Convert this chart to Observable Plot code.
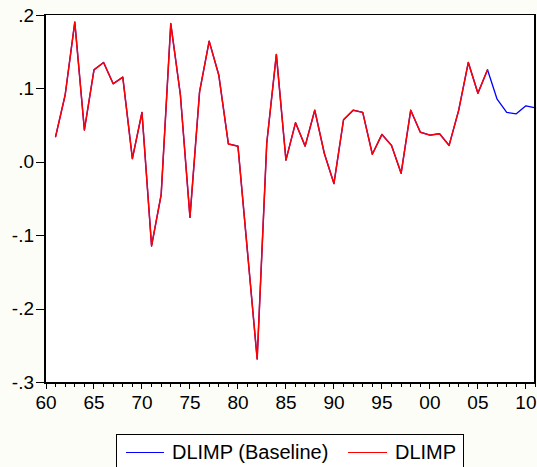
<!DOCTYPE html>
<html>
<head>
<meta charset="utf-8">
<script src="https://cdn.jsdelivr.net/npm/d3@7"></script>
<script src="https://cdn.jsdelivr.net/npm/@observablehq/plot@0.6"></script>
<style>
  html, body { margin: 0; padding: 0; background: #fdfdf7; }
  body { width: 537px; height: 467px; overflow: hidden; position: relative; font-family: "Liberation Sans", Arial, sans-serif; color: #000; }
  #chart { position: absolute; left: 0; top: 0; width: 537px; height: 420px; }
  #chart svg { background: transparent; font-family: "Liberation Sans", Arial, sans-serif; font-size: 19px; color: #000; }
  #box { position: absolute; left: 44px; top: 14px; width: 492px; height: 370px; box-sizing: border-box; border-style: solid; border-color: #000; border-width: 1.5px 2px 2px 2px; pointer-events: none; z-index: 5; }
  .ov { position: absolute; background: #000; pointer-events: none; z-index: 5; }
  #legend { position: absolute; left: 116px; top: 434px; width: 348px; height: 40px; border: 1px solid #000; background: #fff; box-sizing: border-box; }
  .sw { position: absolute; top: 17px; height: 0; border-top: 1px solid; }
  .lt { position: absolute; top: 6px; font-size: 20px; line-height: 22px; white-space: nowrap; }
</style>
</head>
<body>
<div id="chart"></div>
<div id="box"></div>
<div id="legend">
  <div class="sw" style="left:9px;width:38px;border-color:#0000ff"></div>
  <div class="lt" id="lab0" style="left:55px"></div>
  <div class="sw" style="left:231px;width:39px;border-color:#ff0000"></div>
  <div class="lt" id="lab1" style="left:278px"></div>
</div>
<script>
const seriesNames = ["DLIMP (Baseline)", "DLIMP"];

const baselineYears = [1961,1962,1963,1964,1965,1966,1967,1968,1969,1970,
  1971,1972,1973,1974,1975,1976,1977,1978,1979,1980,
  1981,1982,1983,1984,1985,1986,1987,1988,1989,1990,
  1991,1992,1993,1994,1995,1996,1997,1998,1999,2000,
  2001,2002,2003,2004,2005,2006,2007,2008,2009,2010,2011];
const baselineValues = [0.035,0.092,0.191,0.044,0.126,0.136,0.107,0.116,0.005,0.068,
  -0.114,-0.044,0.189,0.092,-0.075,0.096,0.165,0.119,0.025,0.022,
  -0.123,-0.268,0.026,0.147,0.003,0.054,0.022,0.071,0.012,-0.029,
  0.058,0.071,0.068,0.011,0.038,0.023,-0.015,0.071,0.041,0.037,
  0.039,0.023,0.071,0.136,0.094,0.126,0.086,0.068,0.066,0.077,0.074];

const actualYears = [1961,1962,1963,1964,1965,1966,1967,1968,1969,1970,
  1971,1972,1973,1974,1975,1976,1977,1978,1979,1980,
  1981,1982,1983,1984,1985,1986,1987,1988,1989,1990,
  1991,1992,1993,1994,1995,1996,1997,1998,1999,2000,
  2001,2002,2003,2004,2005,2006];
const actualValues = [0.035,0.092,0.191,0.044,0.126,0.136,0.107,0.116,0.005,0.068,
  -0.114,-0.044,0.189,0.092,-0.075,0.096,0.165,0.119,0.025,0.022,
  -0.123,-0.268,0.026,0.147,0.003,0.054,0.022,0.071,0.012,-0.029,
  0.058,0.071,0.068,0.011,0.038,0.023,-0.015,0.071,0.041,0.037,
  0.039,0.023,0.071,0.136,0.094,0.126];

const majorXTicks = [1960,1965,1970,1975,1980,1985,1990,1995,2000,2005,2010];
const majorXLabels = ["60","65","70","75","80","85","90","95","00","05","10"];
const minorXTicks = d3.range(1960, 2012);
const yTicks = [-0.3,-0.2,-0.1,0.0,0.1,0.2];
const yLabels = ["-.3","-.2","-.1",".0",".1",".2"];
const xDomain = [1960, 2011];
const yDomain = [-0.3, 0.2];

const baseline = baselineYears.map((y, i) => ({year: y, value: baselineValues[i]}));
const actual = actualYears.map((y, i) => ({year: y, value: actualValues[i]}));

document.getElementById("lab0").textContent = seriesNames[0];
document.getElementById("lab1").textContent = seriesNames[1];

const W = 537, H = 420, mL = 45.5, mR = 2, mT = 15, mB = 38;
const chart = Plot.plot({
  width: W,
  height: H,
  marginLeft: mL,
  marginRight: mR,
  marginTop: mT,
  marginBottom: mB,
  x: {domain: xDomain, ticks: majorXTicks, tickSize: 0, tickPadding: 13,
      tickFormat: d => majorXLabels[majorXTicks.indexOf(d)], label: null},
  y: {domain: yDomain, ticks: yTicks, tickSize: 0, tickPadding: 12,
      tickFormat: d => yLabels[yTicks.findIndex(t => Math.abs(t - d) < 1e-9)], label: null},
  marks: [
    Plot.rect([0], {x1: () => xDomain[0], x2: () => xDomain[1], y1: () => yDomain[0], y2: () => yDomain[1], fill: "#fff"}),
    Plot.line(baseline, {x: "year", y: "value", stroke: "#0000ff", strokeWidth: 1.3}),
    Plot.line(actual, {x: "year", y: "value", stroke: "#ff0000", strokeWidth: 1.5})
  ]
});
const host = document.getElementById("chart");
host.appendChild(chart);

// tick marks, placed with the same linear mapping Plot uses for these domains/margins
const fx = d3.scaleLinear(xDomain, [mL, W - mR]);
const fy = d3.scaleLinear(yDomain, [H - mB, mT]);
const yBot = fy(yDomain[0]);
const x0 = fx(xDomain[0]);
function addBar(left, top, w, h) {
  const d = document.createElement("div");
  d.className = "ov";
  d.style.left = left + "px"; d.style.top = top + "px";
  d.style.width = w + "px"; d.style.height = h + "px";
  document.body.appendChild(d);
}
minorXTicks.forEach(t => addBar(Math.round(fx(t)) - 0.5, yBot + 1, 1, 4));
majorXTicks.forEach(t => addBar(Math.round(fx(t)) - 0.5, yBot + 1, 1.5, 6));
yTicks.forEach(t => addBar(x0 - 9.5, Math.round(fy(t)) - 0.5, 8, 1.5));
</script>
</body>
</html>
